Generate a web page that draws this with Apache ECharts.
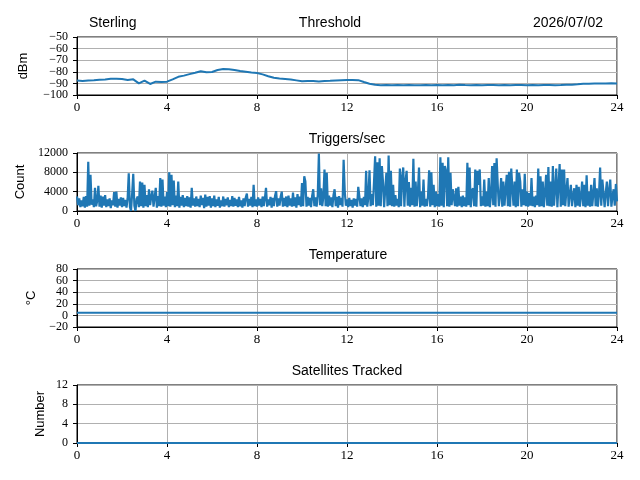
<!DOCTYPE html>
<html>
<head>
<meta charset="UTF-8">
<title>Sterling</title>
<script src="https://cdn.jsdelivr.net/npm/echarts@6.0.0/dist/echarts.min.js"></script>
<style>
  html, body { margin: 0; padding: 0; background: #fff; }
</style>
</head>
<body>
<div id="main" style="width:640px;height:480px"></div>
<script type="text/javascript">

// hours on the shared x axis
var xTicks = [0, 4, 8, 12, 16, 20, 24];

// threshold (dBm), one value every 15 minutes
var threshStep = 0.25;
var threshold = [
  -87.6, -88.0, -87.5, -87.2,
  -86.8, -86.6, -86.0, -85.9,
  -86.3, -87.0, -86.5, -90.0,
  -87.6, -90.5, -88.5, -88.8,
  -88.5, -86.5, -84.3, -83.3,
  -82.0, -80.8, -79.5, -80.3,
  -80.2, -78.5, -77.6, -77.8,
  -78.5, -79.4, -80.0, -80.6,
  -81.0, -82.2, -83.8, -85.2,
  -85.8, -86.2, -86.6, -87.4,
  -88.2, -88.0, -87.9, -88.3,
  -88.0, -87.8, -87.5, -87.3,
  -87.1, -87.0, -87.2, -88.8,
  -90.3, -91.2, -91.5, -91.4,
  -91.6, -91.4, -91.5, -91.3,
  -91.5, -91.6, -91.4, -91.5,
  -91.4, -91.5, -91.3, -91.6,
  -91.2, -91.4, -91.5, -91.4,
  -91.5, -91.3, -91.4, -91.6,
  -91.4, -91.5, -91.4, -91.3,
  -91.5, -91.4, -91.6, -91.4,
  -91.3, -91.5, -91.4, -91.2,
  -91.1, -90.8, -90.4, -90.2,
  -90.1, -90.0, -90.1, -89.9,
  -90.0
];

// triggers per second, one value every 3 minutes (20 per hour)
var trigStep = 0.05;
var triggers = [
  3000, 1200, 2600, 800, 2200, 1000, 2900, 700, 3100, 900, 10200, 1100, 7500, 1300, 2400, 800, 4800, 1000, 2100, 5200,
  900, 3200, 700, 3000, 1100, 3300, 800, 2400, 1000, 2600, 600, 2200, 1200, 3900, 900, 4000, 700, 2500, 1100, 2800,
  800, 2700, 1000, 2300, 700, 2600, 7800, 900, 0, 3500, 7700, 1100, 0, 2500, 3000, 800, 6100, 1000, 5900, 700,
  5400, 1000, 3300, 800, 4500, 1200, 3000, 4200, 900, 2800, 4800, 700, 3100, 1000, 6800, 900, 6500, 1100, 3000, 800,
  3900, 1000, 8000, 900, 7500, 1200, 6300, 800, 3200, 1000, 6100, 700, 2900, 1100, 3300, 800, 2700, 1000, 3100, 900,
  2800, 700, 4800, 1100, 2600, 900, 3000, 1000, 2500, 800, 3200, 1200, 2700, 600, 3400, 900, 2900, 1100, 3100, 700,
  2600, 1000, 3200, 800, 2400, 1100, 2900, 700, 2200, 1000, 3000, 900, 2500, 1200, 2800, 800, 2300, 1000, 3100, 900,
  2700, 1100, 2400, 800, 2900, 1000, 2200, 700, 2600, 1000, 2800, 3600, 900, 2500, 1100, 2900, 800, 5400, 1000, 2400,
  900, 2800, 1100, 2500, 800, 3000, 1000, 2600, 4800, 900, 2400, 1200, 2900, 700, 2700, 1000, 3100, 4100, 900, 2600,
  1100, 2900, 4000, 900, 2700, 1000, 3000, 800, 3200, 1100, 2600, 900, 3800, 1000, 2800, 700, 3500, 1200, 3000, 900,
  5800, 1000, 7200, 6100, 900, 2900, 1100, 2700, 800, 3100, 4500, 1000, 2800, 900, 3300, 11900, 1200, 4700, 1000, 3000,
  8600, 1000, 7900, 900, 3200, 1100, 2800, 800, 3300, 4500, 1000, 2900, 700, 3100, 1200, 2700, 900, 10600, 4000, 1100,
  2400, 800, 2700, 1000, 2300, 700, 2600, 1100, 2500, 900, 5000, 4800, 1000, 2600, 800, 2900, 1200, 8300, 900, 2800,
  8400, 1000, 3500, 1200, 6000, 11300, 900, 10100, 1100, 10900, 1000, 9300, 6000, 800, 4500, 7900, 1000, 11500, 1200, 8300,
  1000, 5400, 900, 3300, 1100, 2500, 800, 8800, 1000, 7000, 9000, 900, 6200, 8300, 1100, 6000, 900, 4800, 1200, 10800,
  900, 6100, 1000, 3800, 9000, 800, 4000, 1100, 6500, 900, 2500, 1000, 3000, 8400, 900, 8000, 1200, 5400, 800, 4000,
  1000, 3500, 900, 11100, 1100, 10000, 800, 9300, 8300, 1000, 11100, 900, 7900, 1200, 4500, 4300, 1000, 4700, 900, 5000,
  1100, 3000, 800, 3200, 1000, 2800, 900, 10000, 1200, 9000, 800, 4200, 4700, 1000, 8600, 900, 8300, 5400, 8600, 1000,
  3000, 1100, 6500, 900, 4000, 1000, 6800, 800, 3200, 9300, 1200, 9900, 900, 10900, 5400, 1000, 3300, 6800, 900, 6100,
  1100, 4500, 7500, 1000, 8100, 900, 8800, 4700, 1100, 6100, 800, 8600, 1000, 7900, 6100, 900, 4500, 1200, 7700, 1000,
  4000, 900, 3700, 1100, 6800, 1000, 3000, 800, 3200, 1200, 8800, 900, 7200, 1000, 6100, 800, 3800, 7500, 1100, 9100,
  1000, 6100, 900, 9300, 1100, 4500, 8800, 800, 1000, 9700, 900, 8600, 1200, 8600, 1000, 4200, 6800, 900, 3500, 5400,
  1000, 3200, 4700, 800, 5400, 1100, 5000, 900, 3000, 6100, 1000, 5400, 800, 7400, 1100, 4000, 900, 5400, 1000, 3600,
  6800, 1000, 4700, 900, 3500, 9000, 1100, 6500, 6100, 800, 3800, 6100, 1000, 4200, 6500, 900, 3000, 4500, 1100, 5600, 2000
];

// temperature (°C) and satellites tracked, hourly
var hourStep = 1;
var temperature = [4.4, 4.4, 4.4, 4.4, 4.4, 4.4, 4.4, 4.4, 4.4, 4.4, 4.4, 4.4, 4.4,
                   4.4, 4.4, 4.4, 4.4, 4.4, 4.4, 4.4, 4.4, 4.4, 4.4, 4.4, 4.4];
var satellites = [0, 0, 0, 0, 0, 0, 0, 0, 0, 0, 0, 0, 0,
                  0, 0, 0, 0, 0, 0, 0, 0, 0, 0, 0, 0];

var panelTitles = ['Threshold', 'Triggers/sec', 'Temperature', 'Satellites Tracked'];
var axisNames = ['dBm', 'Count', '\u00B0C', 'Number'];
var yRanges = [[-100, -50, 10], [0, 12000, 4000], [-20, 80, 20], [0, 12, 4]];

function pairs(arr, step) {
    var out = [];
    for (var i = 0; i < arr.length; i++) out.push([i * step, arr[i]]);
    return out;
}

var seriesData = [
    pairs(threshold, threshStep),
    pairs(triggers, trigStep),
    pairs(temperature, hourStep),
    pairs(satellites, hourStep)
];
var lineWidths = [2, 2.2, 2, 2];
var nameGaps = [47, 50, 38, 30];
var titleCenters = [330, 347, 348, 347];

var tickFont = 'Liberation Serif';
var titleFont = 'Liberation Sans';
var gridTop = [37, 153, 269, 385];

function minusSign(v) { return String(v).replace('-', '\u2212'); }

// each panel gets two stacked left y axes on the same scale: one prints the
// even ticks, the other the odd ones, so dense labels are never auto-hidden
function labelFor(parity, lo, step) {
    return function (v) {
        var idx = Math.round((v - lo) / step);
        return (idx % 2 === parity) ? minusSign(v) : '';
    };
}

var grids = [], xAxes = [], yAxes = [], series = [], titles = [];

for (var k = 0; k < 4; k++) {
    var lo = yRanges[k][0], hi = yRanges[k][1], st = yRanges[k][2];
    grids.push({
        left: 77, top: gridTop[k], width: 540, height: 58,
        show: true, borderColor: '#000', borderWidth: 1, backgroundColor: 'transparent',
        outerBoundsMode: 'none'
    });
    xAxes.push({
        type: 'value', gridIndex: k, min: 0, max: 24, interval: 4,
        axisLine: { show: true, onZero: false, lineStyle: { color: '#000', width: 1 } },
        axisTick: { show: true, inside: false, length: 4, lineStyle: { color: '#000' } },
        axisLabel: { color: '#000', fontFamily: tickFont, fontSize: 13, margin: 6,
                     showMinLabel: true, showMaxLabel: true },
        splitLine: { show: true, lineStyle: { color: '#b0b0b0', width: 1 } }
    });
    yAxes.push({
        type: 'value', gridIndex: k, position: 'left', min: lo, max: hi, interval: st,
        name: axisNames[k], nameLocation: 'middle', nameGap: nameGaps[k],
        nameTextStyle: { color: '#000', fontFamily: titleFont, fontSize: 13 },
        axisLine: { show: true, onZero: false, lineStyle: { color: '#000', width: 1 } },
        axisTick: { show: true, inside: false, length: 4, lineStyle: { color: '#000' } },
        axisLabel: { color: '#000', fontFamily: tickFont, fontSize: 12, margin: 9,
                     showMinLabel: true, showMaxLabel: true,
                     formatter: labelFor(0, lo, st) },
        splitLine: { show: true, lineStyle: { color: '#b0b0b0', width: 1 } }
    });
    yAxes.push({
        type: 'value', gridIndex: k, position: 'left', offset: 0, min: lo, max: hi, interval: st,
        axisLine: { show: false },
        axisTick: { show: false },
        axisLabel: { color: '#000', fontFamily: tickFont, fontSize: 12, margin: 9,
                     showMinLabel: true, showMaxLabel: true,
                     formatter: labelFor(1, lo, st) },
        splitLine: { show: false }
    });
    series.push({
        type: 'line', xAxisIndex: k, yAxisIndex: 2 * k,
        data: seriesData[k], showSymbol: false, symbol: 'none', animation: false,
        lineStyle: { color: '#1f77b4', width: lineWidths[k] },
        clip: true
    });
    titles.push({
        text: panelTitles[k], left: titleCenters[k], top: gridTop[k] - 21, textAlign: 'center', padding: 0,
        textStyle: { color: '#000', fontFamily: titleFont, fontSize: 14, fontWeight: 'normal' }
    });
}

titles.push({
    text: 'Sterling', left: 89, top: 16, padding: 0,
    textStyle: { color: '#000', fontFamily: titleFont, fontSize: 14, fontWeight: 'normal' }
});
titles.push({
    text: '2026/07/02', right: 37, top: 16, padding: 0,
    textStyle: { color: '#000', fontFamily: titleFont, fontSize: 14, fontWeight: 'normal' }
});

var myChart = echarts.init(document.getElementById('main'), null, { renderer: 'canvas' });
myChart.setOption({
    backgroundColor: '#fff',
    animation: false,
    title: titles,
    grid: grids,
    xAxis: xAxes,
    yAxis: yAxes,
    series: series
});

</script>
</body>
</html>
